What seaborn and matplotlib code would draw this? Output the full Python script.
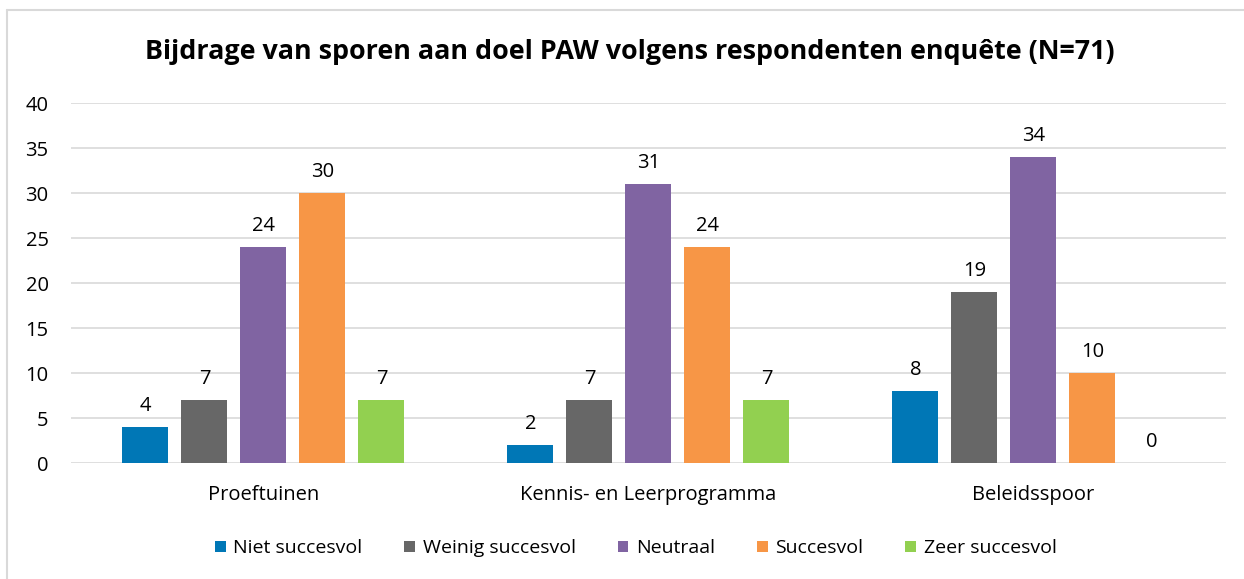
import matplotlib
matplotlib.use("Agg")
import matplotlib.pyplot as plt
import seaborn as sns
import pandas as pd
from matplotlib.lines import Line2D
from matplotlib.patches import Patch

categories = ["Proeftuinen", "Kennis- en Leerprogramma", "Beleidsspoor"]
series_names = ["Niet succesvol", "Weinig succesvol", "Neutraal", "Succesvol", "Zeer succesvol"]
niet = [4, 2, 8]
weinig = [7, 7, 19]
neutraal = [24, 31, 34]
succesvol = [30, 24, 10]
zeer = [7, 7, 0]
colors = ["#0077B6", "#676767", "#8064A2", "#F79646", "#92D050"]
title = "Bijdrage van sporen aan doel PAW volgens respondenten enquête (N=71)"

sns.set_theme(style="white")
plt.rcParams['font.family'] = ['Open Sans', 'DejaVu Sans']
plt.rcParams['text.color'] = '#000000'

rows = []
for name, vals in zip(series_names, [niet, weinig, neutraal, succesvol, zeer]):
    for c, v in zip(categories, vals):
        rows.append({"Spoor": c, "Oordeel": name, "Aantal": v})
df = pd.DataFrame(rows)

fig = plt.figure(figsize=(12.44, 5.79), dpi=100)
ax = fig.add_axes([0.057, 0.2003, 0.9285, 0.6217])
sns.barplot(data=df, x="Spoor", y="Aantal", hue="Oordeel", order=categories,
            hue_order=series_names, palette=colors, width=0.766, gap=0.22,
            ax=ax, legend=False, saturation=1, linewidth=0, edgecolor="none")

ax.set_ylim(0, 40)
ax.set_xlim(-0.5, 2.5)
ax.set_yticks(range(0, 41, 5))
ax.yaxis.grid(True, color="#D9D9D9", linewidth=1.2)
ax.set_axisbelow(True)
for s in ax.spines.values():
    s.set_visible(False)
ax.set_xlabel("")
ax.set_ylabel("")
ax.tick_params(axis="both", length=0, labelsize=14.5, colors="#000000")
ax.tick_params(axis="y", pad=16)
ax.tick_params(axis="x", pad=16)

for cont in ax.containers:
    ax.bar_label(cont, fmt="%d", padding=8, fontsize=14.5, color="#000000")

fig.text(0.5064, 0.910, title, ha="center", va="center", fontsize=19.4,
         fontweight="bold", color="#000000")

handles = [Patch(facecolor=c, edgecolor="none") for c in colors]
leg = fig.legend(handles, series_names, loc="center", bbox_to_anchor=(0.511, 0.053),
                 ncol=5, frameon=False, handlelength=0.55, handleheight=0.55,
                 handletextpad=0.4, columnspacing=2.15,
                 prop={'family': ['Open Sans'], 'size': 14})
for t in leg.get_texts():
    t.set_color("#000000")

fig.add_artist(Line2D([7/1244, 7/1244], [0, 1 - 10/579], transform=fig.transFigure, color="#D9D9D9", lw=1.5))
fig.add_artist(Line2D([7/1244, 1], [1 - 10/579, 1 - 10/579], transform=fig.transFigure, color="#D9D9D9", lw=1.5))

fig.savefig("out.png", dpi=100)
